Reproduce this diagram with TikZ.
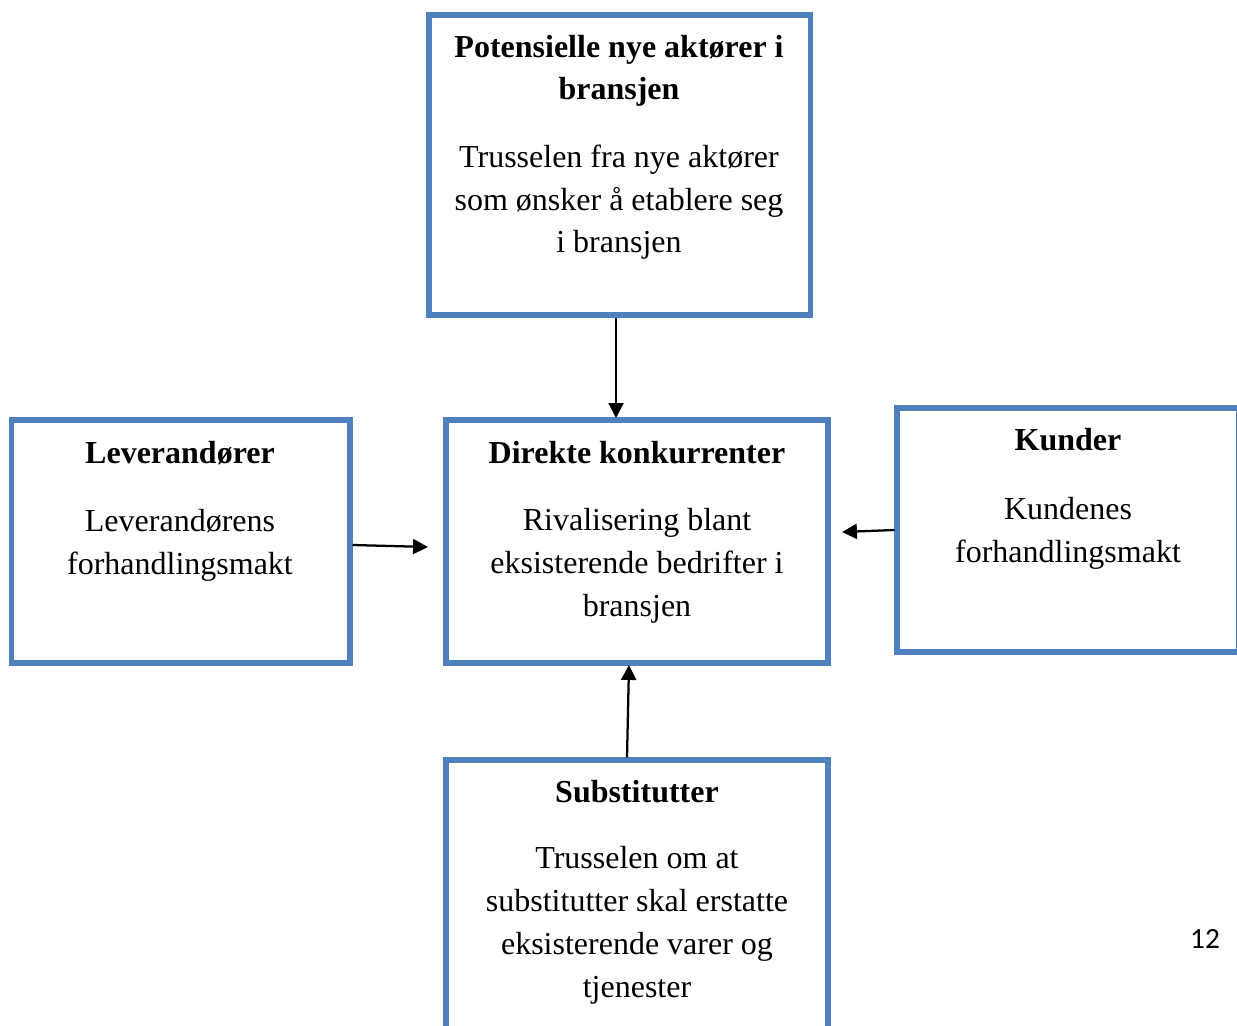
\documentclass[tikz,border=0pt]{standalone}
\usepackage{fontspec}
\setmainfont{Liberation Serif}
\newfontfamily\sidefont{Carlito}
\usetikzlibrary{arrows.meta}
\definecolor{boxblue}{RGB}{79,129,189}
\tikzset{
  forcebox/.style={draw=boxblue,line width=1.9pt,rectangle,inner sep=0pt},
  headtext/.style={font=\fontsize{12}{16.1}\selectfont\bfseries,align=center,anchor=base,inner sep=0pt},
  bodytext/.style={font=\fontsize{12}{16.1}\selectfont,align=center,anchor=base,inner sep=0pt},
  pil/.style={line width=0.85pt,-{Triangle[length=5.6pt,width=5.6pt]}}
}
\begin{document}
\begin{tikzpicture}[x=0.375pt,y=-0.375pt]
    \useasboundingbox (0,0) rectangle (1237,1026);
    \clip (0,0) rectangle (1237,1026);

    % boksene
    \node[forcebox,minimum width=142.9pt,minimum height=112.5pt] (pot) at (619.5,165) {};
    \node[forcebox,minimum width=127.1pt,minimum height=91.1pt] (lev) at (180.5,541.5) {};
    \node[forcebox,minimum width=143.25pt,minimum height=91.1pt] (dir) at (637,541.5) {};
    \node[forcebox,minimum width=128.25pt,minimum height=91.5pt] (kun) at (1068,530) {};
    \node[forcebox,minimum width=143.25pt,minimum height=127.5pt] (sub) at (637,930) {};

    % tekst (base = siste linje)
    \node[headtext] (potH) at (619,100) {Potensielle nye aktører i\\bransjen};
    \node[bodytext] (potT) at (619,253) {Trusselen fra nye aktører\\som ønsker å etablere seg\\i bransjen};

    \node[headtext] (levH) at (180,463) {Leverandører};
    \node[bodytext] (levT) at (180,574) {Leverandørens\\forhandlingsmakt};

    \node[headtext] (dirH) at (637,463) {Direkte konkurrenter};
    \node[bodytext] (dirT) at (637,616) {Rivalisering blant\\eksisterende bedrifter i\\bransjen};

    \node[headtext] (kunH) at (1068,451) {Kunder};
    \node[bodytext] (kunT) at (1068,562) {Kundenes\\forhandlingsmakt};

    \node[headtext] (subH) at (637,802) {Substitutter};
    \node[bodytext] (subT) at (637,997) {Trusselen om at\\substitutter skal erstatte\\eksisterende varer og\\tjenester};

    \node[anchor=base,inner sep=0pt,font=\sidefont\fontsize{11}{13}\selectfont] (side) at (1205,948) {12};

    % piler
    \coordinate (inn1) at (616,418);
    \coordinate (inn2) at (428,547);
    \coordinate (inn3) at (842,532);
    \coordinate (inn4) at (629,665);
    \draw[pil] (pot.south -| inn1) -- (inn1);
    \draw[pil] (lev.east |- 0,545) -- (inn2);
    \draw[pil] (kun.west |- 0,530) -- (inn3);
    \draw[pil] (sub.north -| 627,0) -- (inn4);
\end{tikzpicture}
\end{document}
